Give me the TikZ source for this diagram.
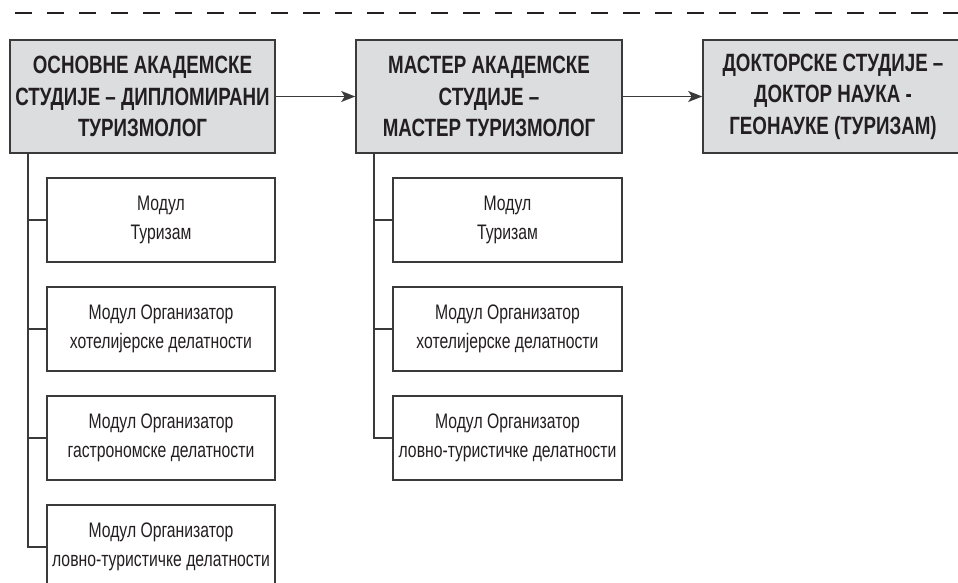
\documentclass[tikz,border=0pt]{standalone}
\usepackage{fontspec}
\setmainfont{Liberation Sans}
\newfontfamily\subfont[FakeStretch=0.75]{Liberation Sans}
\newfontfamily\headfont[FakeStretch=0.75]{Liberation Sans}
\usetikzlibrary{arrows.meta}
\definecolor{txt}{HTML}{231F20}
\definecolor{ln}{HTML}{3A3A3A}
\definecolor{hfill}{HTML}{DCDDDF}
\tikzset{
  headbox/.style={draw=ln, line width=1.6pt, fill=hfill, text=txt, align=center,
    inner sep=0pt, minimum height=113pt,
    font=\headfont\bfseries\fontsize{25}{31.5}\selectfont},
  subbox/.style={draw=ln, line width=1.6pt, fill=white, text=txt, align=center,
    inner sep=0pt, minimum width=228pt, minimum height=84pt,
    font=\subfont\fontsize{21}{29.5}\selectfont},
  conn/.style={draw=ln, line width=1.6pt},
  arr/.style={conn, -{Stealth[length=14pt,width=11pt,inset=3.5pt]}}
}
\begin{document}
\begin{tikzpicture}[x=1pt,y=-1pt]
\useasboundingbox (0,0) rectangle (958,583);
\draw[txt, line width=2.6pt, dash pattern=on 17pt off 15pt] (15,13) -- (975,13);

\node[headbox, minimum width=265pt] (b1) at (142.5,96.5)
  {ОСНОВНЕ АКАДЕМСКЕ\\СТУДИЈЕ – ДИПЛОМИРАНИ\\ТУРИЗМОЛОГ};
\node[headbox, minimum width=266pt] (b2) at (489,96.5)
  {МАСТЕР АКАДЕМСКЕ\\СТУДИЈЕ –\\МАСТЕР ТУРИЗМОЛОГ};
\node[headbox, minimum width=260pt] (b3) at (833,96.5)
  {ДОКТОРСКЕ СТУДИЈЕ –\\ДОКТОР НАУКА -\\ГЕОНАУКЕ (ТУРИЗАМ)};

\draw[arr] (b1) -- (b2);
\draw[arr] (b2) -- (b3);

\node[subbox] (l1) at (161,220) {Модул\\Туризам};
\node[subbox] (l2) at (161,329) {Модул Организатор\\хотелијерске делатности};
\node[subbox] (l3) at (161,438) {Модул Организатор\\гастрономске делатности};
\node[subbox] (l4) at (161,547) {Модул Организатор\\ловно-туристичке делатности};

\node[subbox, minimum width=229pt] (m1) at (507.5,220) {Модул\\Туризам};
\node[subbox, minimum width=229pt] (m2) at (507.5,329) {Модул Организатор\\хотелијерске делатности};
\node[subbox, minimum width=229pt] (m3) at (507.5,438) {Модул Организатор\\ловно-туристичке делатности};

\foreach \s in {l1,l2,l3,l4}{
  \draw[conn] ([xshift=19pt]b1.south west) |- (\s.west);
}
\foreach \s in {m1,m2,m3}{
  \draw[conn] ([xshift=19pt]b2.south west) |- (\s.west);
}
\end{tikzpicture}
\end{document}
